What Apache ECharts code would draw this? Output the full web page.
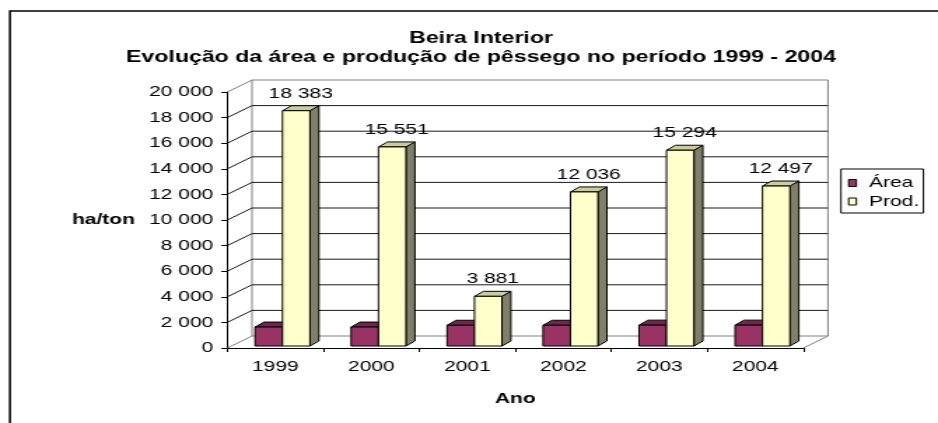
<!DOCTYPE html>
<html>
<head>
<meta charset="utf-8">
<script src="https://cdn.jsdelivr.net/npm/echarts@6/dist/echarts.min.js"></script>
<style>
  html, body { margin: 0; padding: 0; background: #fff; overflow: hidden; }
  /* the reference is stretched sideways, so the chart is drawn narrow and widened */
  #main { position: absolute; left: 0; top: 0; width: 670px; height: 423px; transform: scaleX(1.4); transform-origin: 0 0; }
</style>
</head>
<body>
<div id="main"></div>
<script>
const years = ['1999', '2000', '2001', '2002', '2003', '2004'];
const areaValues = [1480, 1480, 1620, 1620, 1630, 1630];
const prodValues = [18383, 15551, 3881, 12036, 15294, 12497];
const yTicks = [0, 2000, 4000, 6000, 8000, 10000, 12000, 14000, 16000, 18000, 20000];

const FONT = '"Liberation Sans", Arial, sans-serif';
const DX = 17.6, DY = -12;          // depth of the walls
const BDX = 6.4, BDY = -5;          // depth of each bar
const BAR_W = 19.6, BAR_LEFT = -14.5, BAR_LIFT = -2;
const EDGE = '#808080', GRID = '#1a1a1a';

const COLORS = {
  area: { front: '#993366', top: '#73264d', side: '#4d1a33' },
  prod: { front: '#ffffcc', top: '#cccc9a', side: '#80806a' },
};

function fmt(v) {
  return String(v).replace(/\B(?=(\d{3})+(?!\d))/g, ' ');
}

function line(x1, y1, x2, y2, color) {
  return { type: 'line', shape: { x1, y1, x2, y2 }, style: { stroke: color, lineWidth: 1 }, silent: true };
}

function renderWall(params, api) {
  const cs = params.coordSys;
  const v = api.value(1);
  const y = api.coord([0, v])[1];
  const last = yTicks[yTicks.length - 1];
  const edge = v === 0 || v === last;
  const children = [
    line(cs.x + DX, y + DY, cs.x + cs.width + DX, y + DY, edge ? EDGE : GRID),
    line(cs.x, y, cs.x + DX, y + DY, edge ? EDGE : GRID),
  ];
  if (v === 0) {
    const yTop = api.coord([0, last])[1];
    children.push(line(cs.x + cs.width, y, cs.x + cs.width + DX, y + DY, EDGE));
    children.push(line(cs.x + DX, y + DY, cs.x + DX, yTop + DY, EDGE));
    children.push(line(cs.x + cs.width + DX, y + DY, cs.x + cs.width + DX, yTop + DY, EDGE));
  }
  return { type: 'group', children };
}

function bar3d(slot, c, withLabel) {
  return function (params, api) {
    const i = api.value(0);
    const v = api.value(1);
    const base = api.coord([i, 0]);
    const top = api.coord([i, v]);
    const x0 = base[0] + BAR_LEFT + slot * BAR_W;
    const x1 = x0 + BAR_W;
    const yb = base[1] + BAR_LIFT;
    const yt = top[1] + BAR_LIFT;
    const st = fill => ({ fill, stroke: '#000', lineWidth: 1 });
    const children = [
      { type: 'polygon', shape: { points: [[x1, yt], [x1 + BDX, yt + BDY], [x1 + BDX, yb + BDY], [x1, yb]] }, style: st(c.side) },
      { type: 'polygon', shape: { points: [[x0, yt], [x0 + BDX, yt + BDY], [x1 + BDX, yt + BDY], [x1, yt]] }, style: st(c.top) },
      { type: 'rect', shape: { x: x0, y: yt, width: BAR_W, height: yb - yt }, style: st(c.front) },
    ];
    if (withLabel) {
      children.push({
        type: 'text',
        style: {
          text: fmt(v), x: x0 + (BAR_W + BDX) / 2, y: yt + BDY - 12,
          align: 'center', verticalAlign: 'middle',
          font: '15px ' + FONT, fill: '#000',
        },
      });
    }
    return { type: 'group', children };
  };
}

const chart = echarts.init(document.getElementById('main'), null, { renderer: 'canvas' });

chart.setOption({
  backgroundColor: '#fff',
  animation: false,
  title: {
    text: 'Beira Interior\nEvolução da área e produção de pêssego no período 1999 - 2004',
    left: 343.6,
    top: 28.5,
    padding: 0,
    textAlign: 'center',
    textStyle: { fontFamily: FONT, fontSize: 16.5, fontWeight: 'bold', lineHeight: 19, color: '#000' },
  },
  legend: {
    orient: 'vertical',
    left: 600.7,
    top: 169,
    data: ['Área', 'Prod.'],
    icon: 'rect',
    itemWidth: 5.5,
    itemHeight: 7,
    itemGap: 3.5,
    padding: [6.5, 3, 4, 5],
    borderColor: '#000',
    borderWidth: 1,
    itemStyle: { borderColor: '#000', borderWidth: 1 },
    textStyle: { fontFamily: FONT, fontSize: 15, lineHeight: 15, color: '#000', padding: [0, 0, 0, 4] },
  },
  grid: { left: 162.4, width: 411.4, top: 92, height: 256, containLabel: false },
  xAxis: {
    type: 'category',
    data: years,
    name: 'Ano',
    nameLocation: 'middle',
    nameGap: 43,
    nameTextStyle: { fontFamily: FONT, fontSize: 15, fontWeight: 'bold', color: '#000' },
    axisLine: { lineStyle: { color: '#000', width: 1 } },
    axisTick: { show: true, length: 4, lineStyle: { color: '#000' } },
    axisLabel: { fontFamily: FONT, fontSize: 15, color: '#000', margin: 11 },
    splitLine: { show: false },
  },
  yAxis: {
    type: 'value',
    min: 0,
    max: 20000,
    interval: 2000,
    axisLine: { show: true, lineStyle: { color: '#000', width: 1 } },
    axisTick: { show: true, length: 4.3, lineStyle: { color: '#000' } },
    axisLabel: { fontFamily: FONT, fontSize: 15, color: '#000', margin: 10, formatter: v => fmt(v) },
    splitLine: { show: false },
  },
  graphic: [
    {
      type: 'rect', silent: true, z: 100,
      shape: { x: 7.1, y: 11, width: 800, height: 500 },
      style: { fill: 'none', stroke: '#000', lineWidth: 1.5 },
    },
    {
      type: 'text', silent: true,
      style: {
        text: 'ha/ton', x: 73.9, y: 220, align: 'center', verticalAlign: 'middle',
        font: 'bold 15px ' + FONT, fill: '#000',
      },
    },
  ],
  series: [
    {
      name: 'grade',
      type: 'custom',
      silent: true,
      z: 1,
      renderItem: renderWall,
      data: yTicks.map(v => [0, v]),
      encode: { x: 0, y: 1 },
    },
    {
      name: 'Área',
      type: 'custom',
      renderItem: bar3d(0, COLORS.area, false),
      itemStyle: { color: COLORS.area.front },
      data: areaValues.map((v, i) => [i, v]),
      encode: { x: 0, y: 1 },
    },
    {
      name: 'Prod.',
      type: 'custom',
      renderItem: bar3d(1, COLORS.prod, true),
      itemStyle: { color: COLORS.prod.front },
      data: prodValues.map((v, i) => [i, v]),
      encode: { x: 0, y: 1 },
    },
  ],
});
</script>
</body>
</html>
